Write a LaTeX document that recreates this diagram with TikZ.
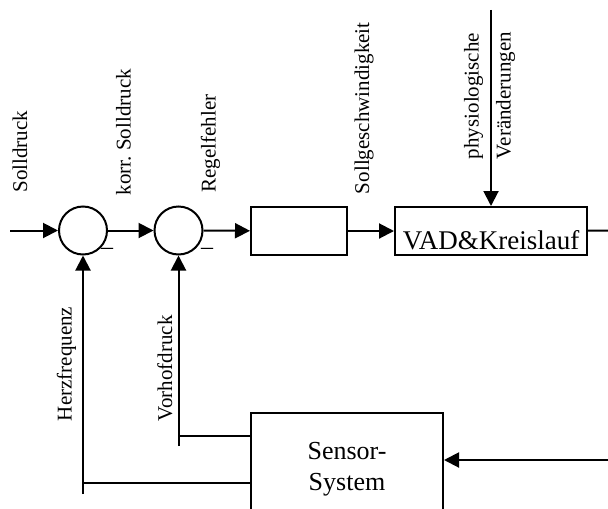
\documentclass[tikz,border=0pt]{standalone}
\usepackage{fontspec}
\setmainfont{Liberation Serif}
\usetikzlibrary{arrows.meta, positioning, calc}

\begin{document}
\begin{tikzpicture}[x=0.5pt, y=-0.5pt, line width=1pt,
    sum/.style={circle, draw, minimum size=24pt, inner sep=0pt},
    block/.style={rectangle, draw, inner sep=0pt, minimum width=96pt, minimum height=24pt},
    lbl/.style={rotate=90, anchor=base west, inner sep=0pt, font=\fontsize{10.5}{12}\selectfont},
    minus/.style={inner sep=0pt, font=\fontsize{12}{14}\selectfont},
    pfeil/.style={-{Triangle[length=7.5pt, width=7.5pt]}}]
    \useasboundingbox (0,0) rectangle (608,508);

    \node[sum] (s1) at (83,230.5) {};
    \node[sum] (s2) at (178.5,230.5) {};
    \node[block, minimum width=48pt] (regler) at (299,231) {};
    \node[block, text height=19pt, font=\fontsize{13.5}{16}\selectfont] (vad) at (491,231) {VAD\&Kreislauf};
    \node[block, minimum height=56pt, align=center, font=\fontsize{13}{15.6}\selectfont] (sensor) at (347,469) {Sensor-\\System};

    \node[minus] (m1) at (107,251) {\textendash};
    \node[minus] (m2) at (207,251) {\textendash};

    \coordinate (ein) at (10,230.5);
    \coordinate (aus) at (608,230.5);
    \coordinate (stoer) at (491,10);
    \coordinate (mess) at (608,460);
    \coordinate (hz) at (83,494);
    \coordinate (hzTap) at (83,483);
    \coordinate (vh) at (178.5,446);
    \coordinate (vhTap) at (178.5,436);

    \draw[pfeil] (ein) -- (s1);
    \draw[pfeil] (s1) -- (s2);
    \draw[pfeil] (s2) -- (regler);
    \draw[pfeil] (regler) -- (vad);
    \draw (vad) -- (aus);
    \draw[pfeil] (stoer) -- (vad);
    \draw[pfeil] (mess) -- (mess -| sensor.east);
    \draw[pfeil] (hz) -- (s1);
    \draw (hzTap) -- (hzTap -| sensor.west);
    \draw[pfeil] (vh) -- (s2);
    \draw (vhTap) -- (vhTap -| sensor.west);

    \node[lbl] (l1) at (27,193.5) {Solldruck};
    \node[lbl] (l2) at (130.5,196) {korr.\ Solldruck};
    \node[lbl] (l3) at (215.5,193.5) {Regelfehler};
    \node[lbl] (l4) at (369,195) {Sollgeschwindigkeit};
    \node[lbl] (l5) at (478.5,160) {physiologische};
    \node[lbl] (l6) at (510.5,160) {Veränderungen};
    \node[lbl] (l7) at (71.5,422) {Herzfrequenz};
    \node[lbl] (l8) at (172,422) {Vorhofdruck};
\end{tikzpicture}
\end{document}
